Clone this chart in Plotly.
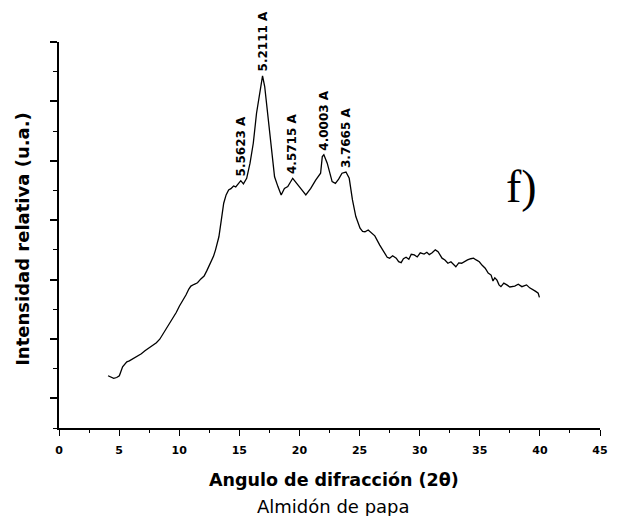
import plotly.graph_objects as go

# X-ray diffraction pattern of potato starch (arbitrary intensity units)
two_theta = [
    4.08, 4.30, 4.55, 4.80, 5.02, 5.29, 5.45, 5.64, 5.85, 6.05, 6.30, 6.60, 6.85,
    7.15, 7.45, 7.83, 8.10, 8.38, 8.65, 8.92, 9.20, 9.47, 9.75, 10.02, 10.30,
    10.56, 10.80, 10.97, 11.25, 11.52, 11.80, 12.07, 12.30, 12.61, 12.85, 13.02,
    13.30, 13.50, 13.70, 13.90, 14.11, 14.30, 14.52, 14.70, 14.93, 15.12, 15.34,
    15.61, 15.89, 16.16, 16.43, 16.70, 16.93, 17.11, 17.39, 17.66, 17.93, 18.21,
    18.48, 18.75, 19.03, 19.44, 19.85, 20.20, 20.53, 20.94, 21.35, 21.76, 21.90,
    22.03, 22.31, 22.72, 22.99, 23.26, 23.54, 23.87, 24.14, 24.41, 24.69, 25.04,
    25.25, 25.45, 25.72, 26.00, 26.27, 26.68, 27.09, 27.30, 27.50, 27.75, 28.05,
    28.25, 28.46, 28.65, 28.87, 29.10, 29.30, 29.55, 29.80, 30.05, 30.37, 30.60,
    30.80, 31.04, 31.30, 31.53, 31.86, 32.10, 32.35, 32.60, 33.01, 33.25, 33.49,
    33.75, 33.98, 34.25, 34.48, 34.70, 34.96, 35.20, 35.45, 35.70, 35.94, 36.10,
    36.25, 36.43, 36.60, 36.76, 37.00, 37.25, 37.50, 37.91, 38.20, 38.50, 38.89,
    39.15, 39.39, 39.65, 39.86, 39.96,
]
intensity = [
    176, 172, 167, 170, 176, 206, 214, 223, 226, 231, 236, 243, 250,
    260, 268, 280, 287, 299, 316, 336, 350, 369, 389, 411, 428,
    448, 468, 478, 484, 489, 502, 512, 530, 555, 578, 600,
    644, 700, 757, 785, 802, 806, 815, 812, 822, 833, 822,
    841, 892, 959, 1060, 1133, 1186, 1150, 1049, 936, 846, 813,
    785, 807, 813, 841, 818, 802, 785, 807, 835, 858, 914,
    920, 892, 830, 824, 838, 858, 862, 841, 768, 712, 673,
    662, 661, 667, 655, 647, 616, 588, 575, 572, 580, 572,
    560, 557, 570, 575, 568, 585, 583, 576, 590, 586, 592,
    584, 590, 600, 594, 572, 566, 555, 560, 543, 556, 555,
    562, 566, 570, 572, 566, 560, 548, 538, 522, 515, 495,
    506, 498, 482, 476, 488, 482, 475, 478, 484, 476, 482,
    472, 467, 460, 454, 440,
]

# Labelled reflections: 2-theta position, peak intensity, d-spacing label
peak_theta = [15.12, 16.93, 19.44, 22.03, 23.87]
peak_intensity = [833, 1186, 841, 920, 862]
peak_labels = ["5.5623 A", "5.2111 A", "4.5715 A", "4.0003 A", "3.7665 A"]

x_ticks = [0, 5, 10, 15, 20, 25, 30, 35, 40, 45]

fig = go.Figure()
fig.add_trace(go.Scatter(
    x=two_theta, y=intensity, mode="lines",
    line=dict(color="black", width=1.3),
    showlegend=False, hoverinfo="skip",
))

annotations = []
for px, py, lab in zip(peak_theta, peak_intensity, peak_labels):
    annotations.append(dict(
        x=px, y=py, xref="x", yref="y", text=lab, showarrow=False,
        textangle=-90, xanchor="center", yanchor="bottom", yshift=2,
        font=dict(family="DejaVu Sans", size=12, color="black", weight="bold"),
    ))

annotations += [
    dict(x=38.5, y=812, xref="x", yref="y", text="f)", showarrow=False,
         xanchor="center", yanchor="middle",
         font=dict(family="Liberation Serif", size=46, color="black")),
    dict(x=0.508, y=0, xref="paper", yref="paper", yshift=-52,
         text="Angulo de difracción (2θ)", showarrow=False,
         xanchor="center", yanchor="middle",
         font=dict(family="DejaVu Sans", size=17.5, color="black", weight="bold")),
    dict(x=0.508, y=0, xref="paper", yref="paper", yshift=-78,
         text="Almidón de papa", showarrow=False,
         xanchor="center", yanchor="middle",
         font=dict(family="DejaVu Sans", size=18, color="black")),
    dict(x=0, y=0.49, xref="paper", yref="paper", xshift=-36,
         text="Intensidad relativa (u.a.)", showarrow=False, textangle=-90,
         xanchor="center", yanchor="middle",
         font=dict(family="DejaVu Sans", size=18, color="black", weight="bold")),
]

fig.update_layout(
    width=617, height=516,
    margin=dict(l=59, r=9, t=42, b=88),
    paper_bgcolor="white", plot_bgcolor="white",
    annotations=annotations,
    xaxis=dict(
        range=[0, 45], tickvals=x_ticks, ticktext=[str(v) for v in x_ticks],
        showgrid=False, zeroline=False, showline=True, linecolor="black",
        linewidth=1.5, ticks="outside", ticklen=6, tickwidth=1.3,
        tickcolor="black", ticklabelstandoff=5,
        tickfont=dict(family="DejaVu Sans", size=11, color="black", weight="bold"),
        minor=dict(dtick=2.5, tick0=0, ticks="outside", ticklen=3,
                   tickwidth=1.2, tickcolor="black", showgrid=False),
    ),
    yaxis=dict(
        range=[0, 1300], tick0=100, dtick=200, showticklabels=False,
        showgrid=False, zeroline=False, showline=True, linecolor="black",
        linewidth=2, ticks="outside", ticklen=7, tickwidth=1.5,
        tickcolor="black",
        minor=dict(dtick=100, tick0=0, ticks="outside", ticklen=4,
                   tickwidth=1.3, tickcolor="black", showgrid=False),
    ),
)

fig.write_html("out.html")
